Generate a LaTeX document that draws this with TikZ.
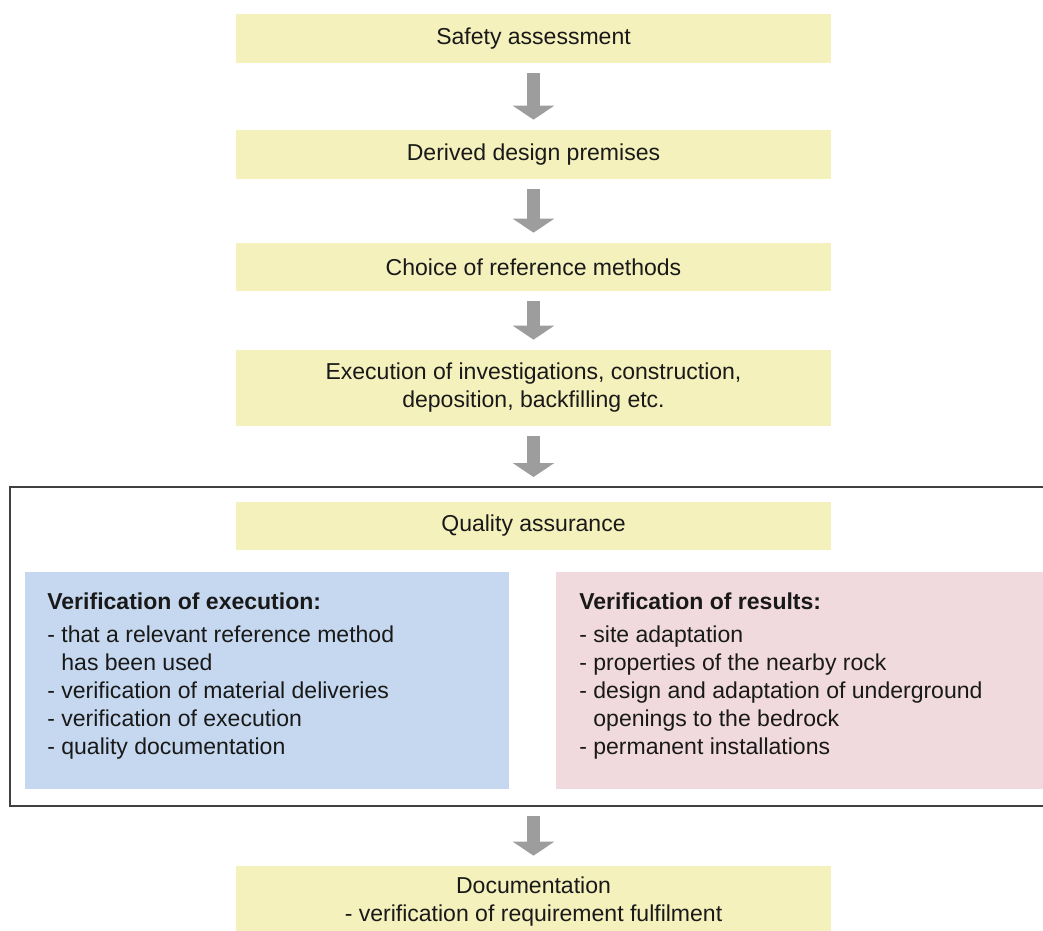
\documentclass[tikz,border=0pt]{standalone}
\usepackage{fontspec}
\setmainfont{Liberation Sans}
\usepackage{xcolor}
\definecolor{stageyellow}{RGB}{244,241,188}
\definecolor{execblue}{RGB}{197,216,239}
\definecolor{resultpink}{RGB}{241,218,221}
\definecolor{flowgray}{RGB}{157,157,157}
\definecolor{framegray}{RGB}{64,64,64}
\usetikzlibrary{arrows.meta,positioning}

\begin{document}
\begin{tikzpicture}[
    font=\fontsize{13.1pt}{15.9pt}\selectfont, text=black!90,
    stage/.style={rectangle, fill=stageyellow, minimum width=11.9cm, minimum height=0.98cm,
      inner sep=0pt, align=center},
    panel/.style={rectangle, minimum height=4.34cm, inner sep=0pt},
    listtext/.style={anchor=north west, align=left, inner sep=0pt},
    flow/.style={draw=flowgray, line width=0.26cm, -{Triangle[width=0.82cm, length=0.28cm]},
      shorten <=0.2cm, shorten >=0.2cm},
    frameline/.style={draw=framegray, line width=0.03cm}
  ]
    \useasboundingbox (0,0) rectangle (20.86,-18.62);
    % Process boxes
    \node[stage] (safety) at (10.67,-0.77) {Safety assessment};
    \node[stage] (premises) at (10.67,-3.09) {Derived design premises};
    \node[stage, minimum height=0.96cm] (methods) at (10.67,-5.34) {Choice of reference methods};
    \node[stage, minimum height=1.52cm] (execution) at (10.67,-7.76) {
      Execution of investigations, construction,\\
      deposition, backfilling etc.
    };
    % Quality assurance frame
    \coordinate (frametop) at (10.67,-9.74);
    \coordinate (framebot) at (10.67,-16.12);
    \draw[frameline] (20.9,-9.74) -| (0.2,-16.12) -- (20.9,-16.12);
    \node[stage, minimum height=0.96cm] (quality) at (10.67,-10.52) {Quality assurance};
    % Verification panels
    \node[panel, fill=execblue, minimum width=9.68cm, anchor=north west] (execpanel) at (0.5,-11.44) {};
    \node[panel, fill=resultpink, minimum width=9.8cm, anchor=north west] (resultpanel) at (11.12,-11.44) {};
    \node[listtext] (exectext) at ([xshift=0.44cm, yshift=-0.41cm]execpanel.north west) {
      \textbf{Verification of execution:}\\[0.1cm]
      - that a relevant reference method\\
      \hphantom{- }has been used\\
      - verification of material deliveries\\
      - verification of execution\\
      - quality documentation
    };
    \node[listtext] (resulttext) at ([xshift=0.46cm, yshift=-0.41cm]resultpanel.north west) {
      \textbf{Verification of results:}\\[0.1cm]
      - site adaptation\\
      - properties of the nearby rock\\
      - design and adaptation of underground\\
      \hphantom{- }openings to the bedrock\\
      - permanent installations
    };
    % Final box
    \node[stage, minimum height=1.42cm] (documentation) at (10.67,-18.03) {
      Documentation\\
      - verification of requirement fulfilment
    };
    % Flow arrows
    \draw[flow] (safety.south) -- (premises.north);
    \draw[flow] (premises.south) -- (methods.north);
    \draw[flow] (methods.south) -- (execution.north);
    \draw[flow] (execution.south) -- (frametop);
    \draw[flow] (framebot) -- (documentation.north);
  \end{tikzpicture}
\end{document}
